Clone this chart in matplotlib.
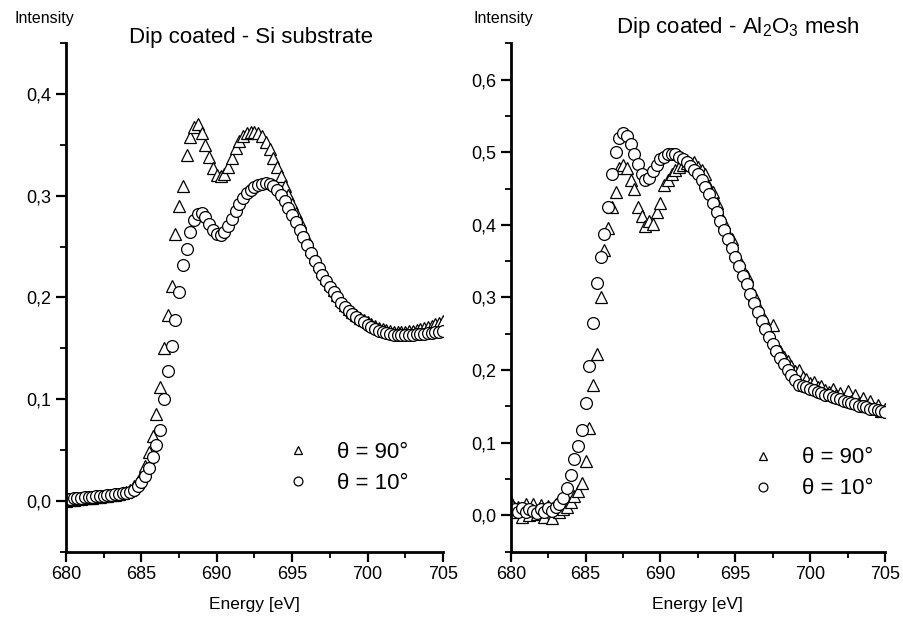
"""XANES spectra of dip coated samples at two incidence angles."""

import matplotlib

matplotlib.use("Agg")
import matplotlib.pyplot as plt
import numpy as np
from matplotlib.ticker import FuncFormatter, MultipleLocator

plt.rcParams["font.family"] = ["Liberation Sans", "DejaVu Sans"]
plt.rcParams["mathtext.default"] = "regular"

# photon energy grid [eV], 0.25 eV steps
energy = np.linspace(680, 705, 101)

# Si substrate
si_90 = [
    0.000, 0.001, 0.001, 0.002, 0.002, 0.003, 0.003, 0.003, 0.004, 0.004,
    0.005, 0.005, 0.006, 0.006, 0.007, 0.008, 0.009, 0.011, 0.014, 0.018,
    0.024, 0.034, 0.048, 0.064, 0.085, 0.112, 0.150, 0.183, 0.211, 0.262,
    0.290, 0.310, 0.340, 0.358, 0.368, 0.371, 0.362, 0.350, 0.338, 0.327,
    0.320, 0.319, 0.321, 0.328, 0.337, 0.347, 0.354, 0.359, 0.362, 0.363,
    0.363, 0.362, 0.359, 0.353, 0.346, 0.337, 0.328, 0.319, 0.310, 0.301,
    0.292, 0.283, 0.274, 0.265, 0.257, 0.248, 0.240, 0.233, 0.226, 0.219,
    0.213, 0.207, 0.202, 0.197, 0.193, 0.189, 0.186, 0.183, 0.180, 0.178,
    0.176, 0.174, 0.172, 0.170, 0.169, 0.168, 0.167, 0.166, 0.166, 0.166,
    0.166, 0.167, 0.167, 0.168, 0.169, 0.170, 0.171, 0.172, 0.174, 0.175,
    0.177,
]
si_10 = [
    0.002, 0.002, 0.003, 0.003, 0.003, 0.004, 0.004, 0.004, 0.005, 0.005,
    0.005, 0.006, 0.006, 0.007, 0.007, 0.008, 0.008, 0.009, 0.011, 0.014,
    0.018, 0.024, 0.032, 0.043, 0.055, 0.070, 0.100, 0.128, 0.152, 0.178,
    0.205, 0.232, 0.248, 0.264, 0.276, 0.282, 0.283, 0.279, 0.272, 0.266,
    0.262, 0.261, 0.264, 0.270, 0.277, 0.285, 0.292, 0.298, 0.303, 0.306,
    0.309, 0.311, 0.312, 0.313, 0.312, 0.310, 0.306, 0.301, 0.295, 0.288,
    0.281, 0.274, 0.266, 0.259, 0.252, 0.244, 0.236, 0.229, 0.222, 0.216,
    0.210, 0.205, 0.200, 0.195, 0.191, 0.187, 0.184, 0.181, 0.178, 0.176,
    0.173, 0.171, 0.169, 0.167, 0.166, 0.165, 0.164, 0.163, 0.163, 0.163,
    0.163, 0.163, 0.163, 0.164, 0.164, 0.164, 0.165, 0.165, 0.166, 0.166,
    0.167,
]

# Al2O3 mesh
al_90 = [
    0.018, 0.004, 0.012, -0.003, 0.015, 0.000, 0.016, 0.002, 0.014, -0.002,
    0.013, -0.004, 0.015, 0.004, 0.008, 0.012, 0.018, 0.026, 0.034, 0.045,
    0.075, 0.120, 0.180, 0.222, 0.300, 0.365, 0.395, 0.425, 0.445, 0.478,
    0.482, 0.478, 0.462, 0.450, 0.425, 0.412, 0.398, 0.405, 0.401, 0.418,
    0.430, 0.455, 0.462, 0.470, 0.475, 0.480, 0.482, 0.485, 0.484, 0.486,
    0.480, 0.476, 0.470, 0.452, 0.445, 0.430, 0.414, 0.403, 0.388, 0.380,
    0.362, 0.352, 0.338, 0.330, 0.312, 0.304, 0.288, 0.276, 0.268, 0.252,
    0.262, 0.232, 0.226, 0.218, 0.212, 0.205, 0.198, 0.200, 0.190, 0.187,
    0.182, 0.184, 0.176, 0.178, 0.172, 0.170, 0.174, 0.166, 0.168, 0.160,
    0.171, 0.158, 0.165, 0.154, 0.162, 0.150, 0.157, 0.148, 0.152, 0.143,
    0.146,
]
al_10 = [
    0.012, 0.008, 0.005, 0.010, 0.004, 0.009, 0.006, 0.003, 0.008, 0.005,
    0.010, 0.006, 0.012, 0.016, 0.024, 0.038, 0.056, 0.077, 0.096, 0.118,
    0.155, 0.205, 0.265, 0.320, 0.356, 0.388, 0.425, 0.470, 0.500, 0.520,
    0.526, 0.523, 0.512, 0.498, 0.484, 0.470, 0.462, 0.465, 0.474, 0.483,
    0.490, 0.494, 0.497, 0.498, 0.497, 0.494, 0.490, 0.486, 0.481, 0.476,
    0.470, 0.462, 0.452, 0.442, 0.430, 0.418, 0.405, 0.393, 0.381, 0.368,
    0.356, 0.343, 0.330, 0.318, 0.305, 0.292, 0.280, 0.268, 0.257, 0.246,
    0.236, 0.226, 0.217, 0.208, 0.200, 0.193, 0.186, 0.180, 0.178, 0.176,
    0.174, 0.172, 0.170, 0.168, 0.166, 0.165, 0.163, 0.161, 0.160, 0.158,
    0.156, 0.155, 0.153, 0.151, 0.150, 0.149, 0.147, 0.146, 0.145, 0.143,
    0.142,
]

fig = plt.figure(figsize=(9.04, 6.19), dpi=100)
ax1 = fig.add_axes([0.073, 0.109, 0.417, 0.821])
ax2 = fig.add_axes([0.565, 0.109, 0.414, 0.821])

# decimal comma on the intensity axis
comma_fmt = FuncFormatter(lambda v, pos: f"{v:.1f}".replace(".", ","))


def style_axis(ax, ytop, ylabel_x):
    ax.set_xlim(680, 705)
    ax.set_ylim(-0.05, ytop)
    for side in ("top", "right"):
        ax.spines[side].set_visible(False)
    for side in ("left", "bottom"):
        ax.spines[side].set_linewidth(2.0)
    ax.xaxis.set_major_locator(MultipleLocator(5))
    ax.xaxis.set_minor_locator(MultipleLocator(2.5))
    ax.yaxis.set_major_locator(MultipleLocator(0.1))
    ax.yaxis.set_minor_locator(MultipleLocator(0.05))
    ax.yaxis.set_major_formatter(comma_fmt)
    ax.tick_params(which="major", direction="out", length=7, width=1.6,
                   labelsize=13)
    ax.tick_params(which="minor", direction="out", length=4, width=1.3)
    ax.set_xlabel("Energy [eV]", fontsize=12.5, labelpad=10)
    ax.text(ylabel_x, 1.049, "Intensity", transform=ax.transAxes,
            ha="center", va="center", fontsize=11.5)


marker_kw = dict(linestyle="none", markersize=8.5, markerfacecolor="white",
                 markeredgecolor="black", markeredgewidth=0.9)

for ax, y90, y10 in ((ax1, si_90, si_10), (ax2, al_90, al_10)):
    ax.plot(energy, y90, marker="^", label="\u03b8 = 90\u00b0", **marker_kw)
    ax.plot(energy, y10, marker="o", label="\u03b8 = 10\u00b0", **marker_kw)

style_axis(ax1, 0.45, -0.058)
style_axis(ax2, 0.65, -0.021)

ax1.text(0.49, 1.0, "Dip coated - Si substrate", transform=ax1.transAxes,
         ha="center", va="baseline", fontsize=16)
ax2.text(0.607, 1.02, "Dip coated - Al$_2$O$_3$ mesh", transform=ax2.transAxes,
         ha="center", va="baseline", fontsize=16)

for ax, anchor in ((ax1, (0.586, 0.215)), (ax2, (0.644, 0.205))):
    ax.legend(loc="upper left", bbox_to_anchor=anchor, frameon=False,
              fontsize=16, markerscale=0.75, handlelength=1.0,
              handletextpad=1.25, labelspacing=0.45, borderpad=0,
              borderaxespad=0)

fig.savefig("out.png", dpi=100)
plt.close(fig)
